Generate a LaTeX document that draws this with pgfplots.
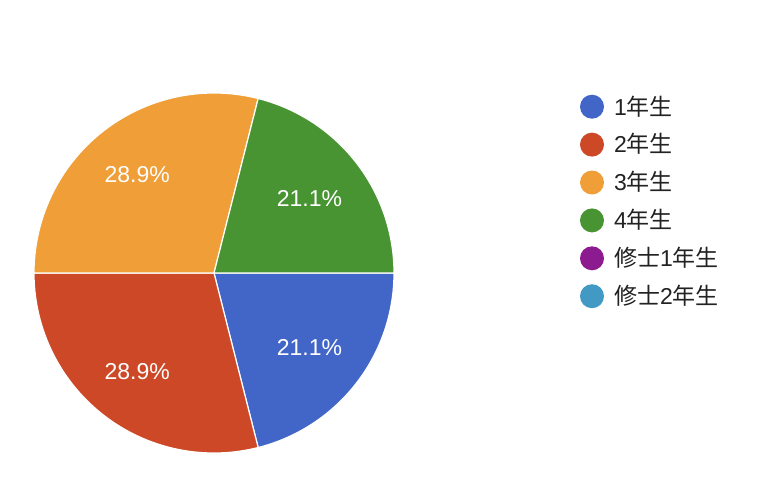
\documentclass[border=0pt]{standalone}
\usepackage{pgfplots}
\pgfplotsset{compat=1.18}
\usepackage{pgfplotstable}
\usepackage{fontspec}
\setmainfont{Liberation Sans}
\newfontfamily\cjk{Noto Sans CJK JP}
\definecolor{c1}{RGB}{65,102,200}
\definecolor{c2}{RGB}{204,72,38}
\definecolor{c3}{RGB}{240,158,56}
\definecolor{c4}{RGB}{72,148,50}
\definecolor{c5}{RGB}{141,27,144}
\definecolor{c6}{RGB}{66,153,196}
\definecolor{txt}{RGB}{34,34,34}
\pgfkeys{/pgf/number format/assume math mode=true}
\tikzset{big/.style={font=\fontsize{23bp}{27bp}\selectfont}}

\pgfplotstableread{
idx count
0 8
1 11
2 11
3 8
4 0
5 0
}\datatable

\begin{document}
\begin{tikzpicture}
\pgfplotstablegetelem{0}{count}\of\datatable \edef\cA{\pgfplotsretval}
\pgfplotstablegetelem{1}{count}\of\datatable \edef\cB{\pgfplotsretval}
\pgfplotstablegetelem{2}{count}\of\datatable \edef\cC{\pgfplotsretval}
\pgfplotstablegetelem{3}{count}\of\datatable \edef\cD{\pgfplotsretval}
\pgfplotstablegetelem{4}{count}\of\datatable \edef\cE{\pgfplotsretval}
\pgfplotstablegetelem{5}{count}\of\datatable \edef\cF{\pgfplotsretval}
\pgfmathsetmacro\tot{\cA+\cB+\cC+\cD+\cE+\cF}
\pgfmathsetmacro\aA{-360*\cA/\tot}
\pgfmathsetmacro\aB{\aA-360*\cB/\tot}
\pgfmathsetmacro\aC{\aB-360*\cC/\tot}
\pgfmathsetmacro\aD{\aC-360*\cD/\tot}
\pgfmathsetmacro\mA{\aA/2}
\pgfmathsetmacro\mB{(\aA+\aB)/2}
\pgfmathsetmacro\mC{(\aB+\aC)/2}
\pgfmathsetmacro\mD{(\aC+\aD)/2}
\pgfmathsetmacro\pA{100*\cA/\tot}
\pgfmathsetmacro\pB{100*\cB/\tot}
\pgfmathsetmacro\pC{100*\cC/\tot}
\pgfmathsetmacro\pD{100*\cD/\tot}
\def\cx{214}\def\cy{273}\def\R{180}\def\L{121}\def\LL{125}
\begin{axis}[
  width=780bp, height=498bp, scale only axis,
  xmin=0, xmax=780, ymin=0, ymax=498, y dir=reverse,
  hide axis, clip=false,
]
\path (axis cs:0,0) rectangle (axis cs:780,498);
\addplot[fill=c1, draw=white, line width=1.2pt, domain=\aA:0, samples=90, variable=\t]
  ({\cx+\R*cos(t)},{\cy-\R*sin(t)}) -- (axis cs:\cx,\cy) -- cycle;
\addplot[fill=c2, draw=white, line width=1.2pt, domain=\aB:\aA, samples=90, variable=\t]
  ({\cx+\R*cos(t)},{\cy-\R*sin(t)}) -- (axis cs:\cx,\cy) -- cycle;
\addplot[fill=c3, draw=white, line width=1.2pt, domain=\aC:\aB, samples=90, variable=\t]
  ({\cx+\R*cos(t)},{\cy-\R*sin(t)}) -- (axis cs:\cx,\cy) -- cycle;
\addplot[fill=c4, draw=white, line width=1.2pt, domain=\aD:\aC, samples=90, variable=\t]
  ({\cx+\R*cos(t)},{\cy-\R*sin(t)}) -- (axis cs:\cx,\cy) -- cycle;

\node[big, white, anchor=base, inner sep=0pt] at (axis cs:{\cx+\L*cos(\mA)},{\cy-\L*sin(\mA)+8.3}) {\pgfmathprintnumber[fixed,precision=1,fixed zerofill]{\pA}\%};
\node[big, white, anchor=base, inner sep=0pt] at (axis cs:{\cx+\LL*cos(\mB)},{\cy-\LL*sin(\mB)+8.3}) {\pgfmathprintnumber[fixed,precision=1,fixed zerofill]{\pB}\%};
\node[big, white, anchor=base, inner sep=0pt] at (axis cs:{\cx+\LL*cos(\mC)},{\cy-\LL*sin(\mC)+8.3}) {\pgfmathprintnumber[fixed,precision=1,fixed zerofill]{\pC}\%};
\node[big, white, anchor=base, inner sep=0pt] at (axis cs:{\cx+\L*cos(\mD)},{\cy-\L*sin(\mD)+8.3}) {\pgfmathprintnumber[fixed,precision=1,fixed zerofill]{\pD}\%};

% legend
\fill[c1] (axis cs:592,106.7) circle[radius=12bp];
\fill[c2] (axis cs:592,144.6) circle[radius=12bp];
\fill[c3] (axis cs:592,182.5) circle[radius=12bp];
\fill[c4] (axis cs:592,220.4) circle[radius=12bp];
\fill[c5] (axis cs:592,258.3) circle[radius=12bp];
\fill[c6] (axis cs:592,296.2) circle[radius=12bp];
\node[big, txt, anchor=base west, inner sep=0pt] at (axis cs:614,115.0) {1{\cjk 年生}};
\node[big, txt, anchor=base west, inner sep=0pt] at (axis cs:614,152.9) {2{\cjk 年生}};
\node[big, txt, anchor=base west, inner sep=0pt] at (axis cs:614,190.8) {3{\cjk 年生}};
\node[big, txt, anchor=base west, inner sep=0pt] at (axis cs:614,228.7) {4{\cjk 年生}};
\node[big, txt, anchor=base west, inner sep=0pt] at (axis cs:614,266.6) {{\cjk 修士}1{\cjk 年生}};
\node[big, txt, anchor=base west, inner sep=0pt] at (axis cs:614,304.5) {{\cjk 修士}2{\cjk 年生}};
\end{axis}
\end{tikzpicture}
\end{document}
